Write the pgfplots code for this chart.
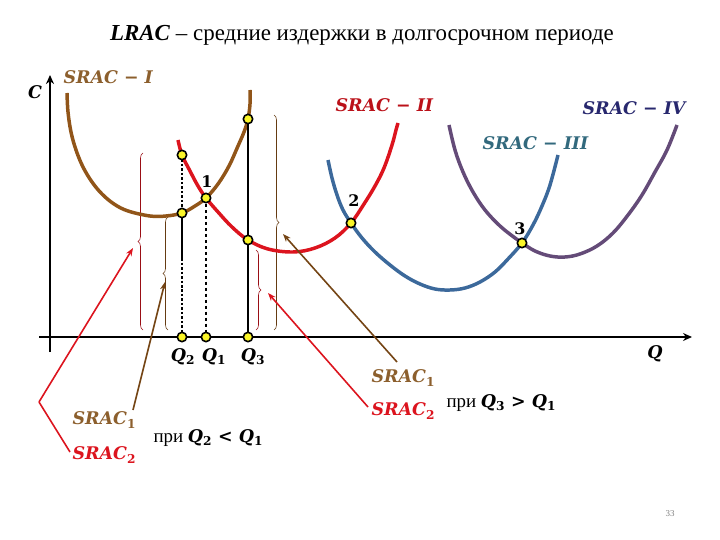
\documentclass[border=0pt]{standalone}
\usepackage{pgfplots}
\pgfplotsset{compat=1.18}
\usepackage{fontspec}
\setmainfont{Liberation Serif}
\newfontfamily\labfont{DejaVu Serif}
\usetikzlibrary{decorations.pathreplacing,arrows.meta}
\definecolor{cbrown}{RGB}{145,85,25}
\definecolor{lbrown}{RGB}{140,95,45}
\definecolor{cred}{RGB}{220,20,30}
\definecolor{cblue}{RGB}{60,105,155}
\definecolor{lteal}{RGB}{50,105,125}
\definecolor{cpurple}{RGB}{100,75,120}
\definecolor{lnavy}{RGB}{40,40,110}
\definecolor{ptyellow}{RGB}{250,245,40}
\newcommand{\lab}{\labfont\fontsize{17.5}{21}\selectfont\bfseries\itshape}
\newcommand{\sub}[1]{\textsubscript{\upshape #1}}
\begin{document}
\begin{tikzpicture}
\begin{axis}[width=720bp,height=540bp,scale only axis,
  xmin=0,xmax=720,ymin=0,ymax=540,y dir=reverse,hide axis,clip=false]
\path[use as bounding box] (axis cs:0,0) rectangle (axis cs:720,540);
% title
\node at (axis cs:362,35) {\fontsize{23}{26}\selectfont\textbf{\textit{LRAC}} – средние издержки в долгосрочном периоде};
% axes
\draw[line width=3pt,-{Stealth[length=9bp,width=8bp]}] (axis cs:50,352) -- (axis cs:50,75);
\draw[line width=3pt,-{Stealth[length=9bp,width=8bp]}] (axis cs:39,337) -- (axis cs:692,337);
\node at (axis cs:35,92) {\lab C};
\node at (axis cs:655,354) {\lab Q};
% braces
\draw[cred!70!black,line width=0.6pt,decorate,decoration={brace,amplitude=5bp}] (axis cs:143,330) -- (axis cs:143,153);
\draw[cbrown!70!black,line width=0.6pt,decorate,decoration={brace,amplitude=5bp}] (axis cs:168,330) -- (axis cs:168,217);
\draw[cbrown!70!black,line width=0.6pt,decorate,decoration={brace,amplitude=5bp}] (axis cs:274,115) -- (axis cs:274,330);
\draw[cred!70!black,line width=0.6pt,decorate,decoration={brace,amplitude=5bp}] (axis cs:256,250) -- (axis cs:256,330);
% curves
\addplot[cbrown,line width=3.5pt,smooth,tension=0.6] coordinates {(67,93) (68,112) (71,132) (76,150) (83,167) (92,182) (102,194) (114,204) (128,211) (150,216) (166,216) (182,213) (195,206) (206,198) (218,184) (229,166) (238,146) (244,132) (248,119) (250,104) (250,90)};
\addplot[cred,line width=3.5pt,smooth,tension=0.6] coordinates {(178,140) (182,155) (190,171) (198,186) (206,198) (218,212) (232,227) (248,240) (268,249) (293,252) (315,248) (335,238) (351,223) (364,204) (375,186) (384,168) (392,145) (396,130) (398,123)};
\addplot[cblue,line width=3.5pt,smooth,tension=0.6] coordinates {(328,160) (332,178) (337,195) (343,210) (351,223) (362,238) (375,252) (390,265) (405,276) (420,284) (435,289) (450,290) (465,288) (480,282) (495,272) (508,259) (522,243) (533,225) (542,206) (550,185) (558,155)};
\addplot[cpurple,line width=3.5pt,smooth,tension=0.6] coordinates {(449,125) (455,150) (463,172) (473,192) (485,210) (500,226) (515,238) (522,243) (535,251) (550,256) (565,257) (580,254) (597,246) (613,233) (628,215) (642,195) (655,172) (667,150) (677,125)};
% vertical lines
\addplot[black,line width=2.5pt,dotted] coordinates {(182,155) (182,337)};
\addplot[black,line width=3pt] coordinates {(182,213) (182,258)};
\addplot[black,line width=2pt,dashed] coordinates {(206,198) (206,337)};
\addplot[black,line width=2.5pt] coordinates {(248,119) (248,337)};
% arrows
\addplot[cred,line width=1.6pt,-{Stealth[length=8bp,width=6bp]}] coordinates {(39,402) (133,248)};
\addplot[cred,line width=1.6pt] coordinates {(39,402) (70,452)};
\addplot[cbrown!80!black,line width=1.6pt,-{Stealth[length=8bp,width=6bp]}] coordinates {(133,410) (165,282)};
\addplot[cbrown!80!black,line width=1.6pt,-{Stealth[length=8bp,width=6bp]}] coordinates {(397,362) (283,234)};
\addplot[cred,line width=1.6pt,-{Stealth[length=8bp,width=6bp]}] coordinates {(368,407) (268,293)};
% points
\addplot[only marks,mark=*,mark size=4.7pt,mark options={fill=ptyellow,draw=black,line width=1.6pt}] coordinates {(182,155) (182,213) (206,198) (248,119) (248,240) (351,223) (522,243) (182,337) (206,337) (248,337)};
% point labels
\node at (axis cs:207,182) {\labfont\fontsize{16}{18}\selectfont\bfseries 1};
\node at (axis cs:354,201) {\labfont\fontsize{16}{18}\selectfont\bfseries 2};
\node at (axis cs:520,229) {\labfont\fontsize{16}{18}\selectfont\bfseries 3};
% curve labels
\node[anchor=west,text=lbrown] at (axis cs:60,77) {\lab SRAC − I};
\node[anchor=west,text=cred!85!black] at (axis cs:332,105) {\lab SRAC − II};
\node[anchor=west,text=lteal] at (axis cs:479,143) {\lab SRAC − III};
\node[anchor=west,text=lnavy] at (axis cs:579,108) {\lab SRAC − IV};
% Q labels
\node at (axis cs:183,357) {\lab Q\sub{2}};
\node at (axis cs:214,357) {\lab Q\sub{1}};
\node at (axis cs:253,357) {\lab Q\sub{3}};
% annotations left
\node[anchor=west,text=lbrown] at (axis cs:69,420) {\lab SRAC\sub{1}};
\node[anchor=west,text=cred] at (axis cs:69,455) {\lab SRAC\sub{2}};
\node[anchor=west] at (axis cs:150,438) {\fontsize{19}{22}\selectfont при {\lab Q\sub{2} < Q\sub{1}}};
% annotations right
\node[anchor=west,text=lbrown] at (axis cs:368,378) {\lab SRAC\sub{1}};
\node[anchor=west,text=cred] at (axis cs:368,411) {\lab SRAC\sub{2}};
\node[anchor=west] at (axis cs:443,403) {\fontsize{19}{22}\selectfont при {\lab Q\sub{3} > Q\sub{1}}};
% page number
\node[text=gray] at (axis cs:670,514) {\fontsize{9}{10}\selectfont 33};
\end{axis}
\end{tikzpicture}
\end{document}
